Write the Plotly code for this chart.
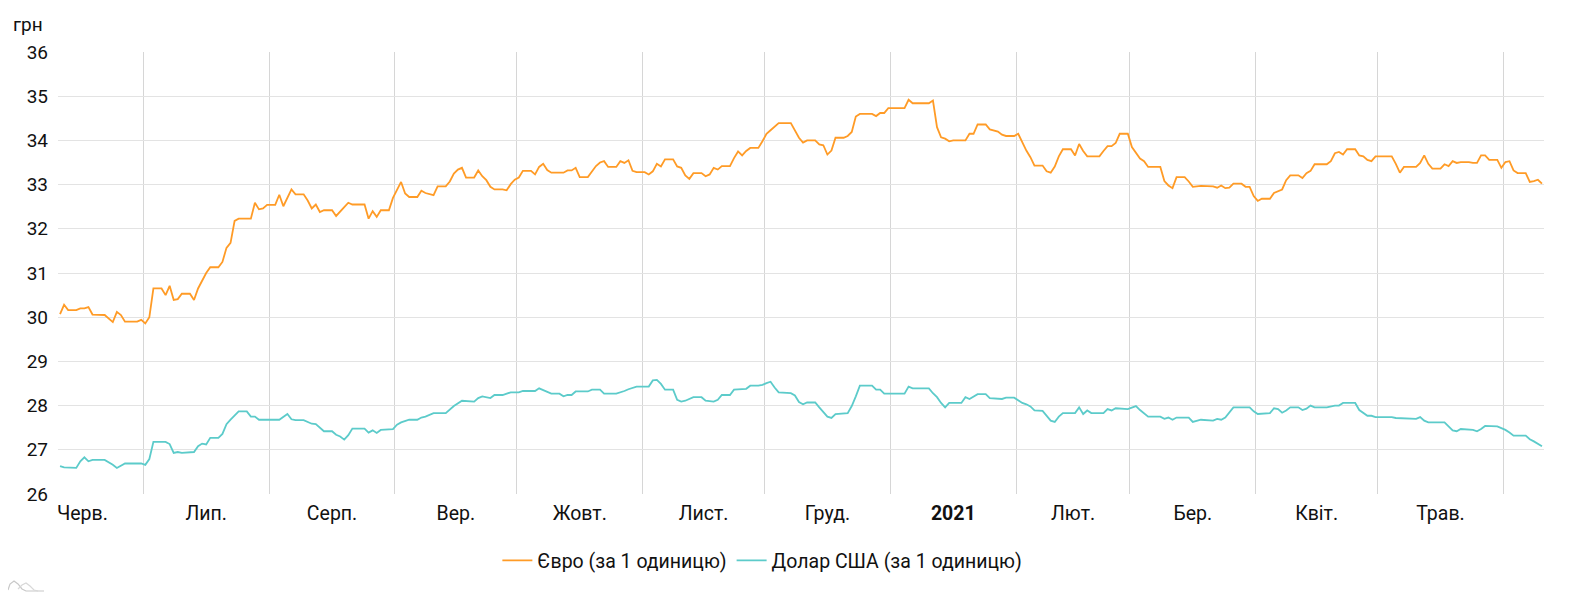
import pandas as pd
import plotly.graph_objects as go

# ---- data (day index from 2020-06-10, value in UAH) ----
START = "2020-06-10"

eur_day = [0, 1, 2, 4, 5, 6, 7, 8, 11, 12, 13, 14, 15, 16, 19, 20, 21, 22, 23, 25,
           26, 27, 28, 29, 30, 32, 33, 34, 35, 36, 37, 39, 40, 41, 42, 43, 44, 47, 48, 49,
           50, 51, 53, 54, 55, 56, 57, 58, 60, 61, 62, 63, 64, 65, 67, 68, 69, 70, 71, 72,
           75, 76, 77, 78, 79, 81, 82, 83, 84, 85, 86, 88, 89, 90, 92, 93, 95, 96, 97, 98,
           99, 100, 102, 103, 104, 105, 106, 107, 109, 110, 111, 112, 113, 114, 116, 117, 118, 119, 120, 121,
           124, 125, 126, 127, 128, 130, 131, 132, 133, 134, 135, 137, 138, 139, 140, 141, 142, 144, 145, 146,
           147, 148, 149, 151, 152, 153, 154, 155, 156, 158, 159, 160, 161, 162, 163, 165, 166, 167, 168, 169,
           170, 172, 173, 174, 175, 177, 180, 181, 182, 183, 184, 186, 187, 188, 189, 190, 191, 193, 194, 195,
           196, 197, 200, 201, 202, 203, 204, 208, 209, 210, 214, 215, 216, 217, 218, 219, 220, 223, 224, 225,
           226, 228, 229, 231, 232, 233, 235, 236, 237, 238, 239, 240, 242, 243, 244, 245, 246, 247, 249, 250,
           251, 252, 253, 256, 257, 258, 259, 260, 261, 263, 264, 265, 266, 267, 268, 271, 272, 273, 274, 275,
           277, 278, 279, 281, 284, 285, 286, 287, 288, 289, 291, 292, 293, 294, 295, 296, 298, 299, 300, 301,
           302, 303, 305, 306, 307, 308, 309, 312, 313, 314, 315, 316, 317, 319, 320, 321, 322, 323, 324, 328,
           329, 330, 331, 334, 335, 336, 337, 338, 340, 341, 342, 343, 344, 345, 347, 348, 349, 350, 351, 352,
           354, 355, 356, 357, 358, 359, 361, 362, 363, 364, 365]
eur_val = [30.07, 30.28, 30.16, 30.16, 30.20, 30.20, 30.23, 30.06, 30.05, 29.97, 29.89, 30.12, 30.05, 29.90, 29.90, 29.94, 29.86, 30.00, 30.65, 30.65,
           30.50, 30.71, 30.39, 30.41, 30.53, 30.53, 30.39, 30.65, 30.84, 31.00, 31.13, 31.13, 31.25, 31.57, 31.68, 32.18, 32.23, 32.23, 32.59, 32.44,
           32.46, 32.54, 32.54, 32.77, 32.51, 32.71, 32.89, 32.78, 32.78, 32.64, 32.46, 32.55, 32.38, 32.42, 32.42, 32.29, 32.38, 32.49, 32.59, 32.55,
           32.55, 32.23, 32.40, 32.27, 32.42, 32.42, 32.70, 32.89, 33.06, 32.80, 32.72, 32.72, 32.86, 32.81, 32.76, 32.96, 32.96, 33.07, 33.25, 33.34,
           33.38, 33.16, 33.16, 33.32, 33.19, 33.10, 32.95, 32.89, 32.89, 32.87, 33.01, 33.11, 33.16, 33.31, 33.31, 33.23, 33.40, 33.47, 33.33, 33.27,
           33.27, 33.32, 33.32, 33.38, 33.17, 33.17, 33.30, 33.42, 33.50, 33.53, 33.40, 33.40, 33.53, 33.49, 33.55, 33.31, 33.28, 33.28, 33.23, 33.30,
           33.47, 33.41, 33.57, 33.57, 33.41, 33.38, 33.21, 33.13, 33.26, 33.26, 33.19, 33.23, 33.38, 33.34, 33.42, 33.42, 33.60, 33.75, 33.66, 33.76,
           33.83, 33.83, 33.98, 34.15, 34.23, 34.39, 34.39, 34.24, 34.06, 33.95, 34.00, 34.00, 33.91, 33.89, 33.68, 33.77, 34.06, 34.06, 34.10, 34.19,
           34.54, 34.60, 34.60, 34.55, 34.62, 34.62, 34.73, 34.73, 34.92, 34.84, 34.84, 34.90, 34.30, 34.07, 34.04, 33.98, 34.00, 34.00, 34.15, 34.15,
           34.36, 34.36, 34.25, 34.20, 34.13, 34.10, 34.10, 34.15, 33.94, 33.77, 33.62, 33.43, 33.43, 33.30, 33.27, 33.41, 33.64, 33.80, 33.80, 33.66,
           33.92, 33.76, 33.64, 33.64, 33.76, 33.87, 33.87, 33.94, 34.15, 34.15, 33.85, 33.71, 33.59, 33.53, 33.40, 33.40, 33.08, 32.98, 32.92, 33.17,
           33.17, 33.07, 32.95, 32.97, 32.96, 32.93, 32.98, 32.92, 32.93, 33.02, 33.02, 32.95, 32.95, 32.74, 32.63, 32.68, 32.68, 32.81, 32.85, 32.89,
           33.10, 33.21, 33.21, 33.15, 33.26, 33.31, 33.46, 33.46, 33.53, 33.71, 33.74, 33.68, 33.80, 33.80, 33.66, 33.64, 33.56, 33.53, 33.64, 33.64,
           33.47, 33.27, 33.40, 33.40, 33.49, 33.66, 33.47, 33.36, 33.36, 33.46, 33.42, 33.53, 33.49, 33.51, 33.51, 33.49, 33.49, 33.66, 33.66, 33.56,
           33.56, 33.38, 33.51, 33.53, 33.32, 33.26, 33.26, 33.06, 33.08, 33.11, 33.02]

usd_day = [0, 1, 4, 5, 6, 7, 8, 11, 13, 14, 16, 20, 21, 22, 23, 26, 27, 28, 29, 30,
           33, 34, 35, 36, 37, 39, 40, 41, 42, 44, 46, 47, 48, 49, 54, 56, 57, 58, 60, 62,
           63, 65, 67, 68, 69, 70, 71, 72, 75, 76, 77, 78, 79, 82, 83, 84, 86, 88, 89, 90,
           92, 95, 97, 99, 102, 103, 104, 106, 107, 109, 111, 113, 114, 117, 118, 119, 121, 123, 124, 125,
           126, 127, 130, 131, 133, 134, 137, 139, 140, 142, 145, 146, 147, 148, 149, 151, 152, 153, 154, 156,
           158, 159, 161, 162, 163, 165, 166, 169, 170, 172, 173, 174, 175, 176, 177, 180, 181, 182, 183, 184,
           186, 187, 188, 189, 190, 191, 194, 195, 196, 197, 200, 201, 202, 203, 208, 209, 210, 214, 215, 216,
           217, 218, 219, 222, 223, 224, 226, 228, 229, 232, 233, 235, 237, 238, 239, 240, 242, 243, 244, 245,
           246, 247, 250, 251, 252, 253, 254, 257, 258, 259, 260, 263, 265, 266, 268, 271, 272, 273, 274, 275,
           278, 279, 281, 284, 285, 286, 287, 289, 293, 294, 295, 298, 299, 300, 301, 302, 303, 305, 306, 307,
           308, 309, 312, 314, 315, 316, 319, 320, 321, 322, 323, 324, 328, 329, 334, 335, 336, 337, 341, 342,
           343, 344, 345, 348, 349, 350, 351, 354, 356, 357, 358, 361, 362, 363, 364, 365]
usd_val = [26.63, 26.60, 26.59, 26.74, 26.83, 26.74, 26.77, 26.77, 26.66, 26.59, 26.69, 26.69, 26.66, 26.79, 27.18, 27.18, 27.13, 26.93, 26.95, 26.93,
           26.95, 27.08, 27.14, 27.12, 27.27, 27.27, 27.36, 27.58, 27.68, 27.87, 27.87, 27.75, 27.75, 27.68, 27.68, 27.81, 27.69, 27.67, 27.67, 27.59,
           27.58, 27.42, 27.42, 27.34, 27.30, 27.23, 27.33, 27.48, 27.48, 27.39, 27.44, 27.38, 27.45, 27.47, 27.57, 27.62, 27.68, 27.68, 27.73, 27.75,
           27.83, 27.83, 27.99, 28.11, 28.09, 28.17, 28.21, 28.17, 28.24, 28.24, 28.30, 28.30, 28.33, 28.33, 28.39, 28.35, 28.27, 28.27, 28.21, 28.24,
           28.24, 28.32, 28.32, 28.36, 28.36, 28.27, 28.27, 28.33, 28.37, 28.43, 28.43, 28.57, 28.58, 28.49, 28.36, 28.36, 28.13, 28.09, 28.11, 28.19,
           28.19, 28.11, 28.09, 28.13, 28.24, 28.24, 28.36, 28.38, 28.45, 28.45, 28.47, 28.51, 28.54, 28.41, 28.30, 28.28, 28.23, 28.08, 28.03, 28.07,
           28.07, 27.96, 27.85, 27.75, 27.72, 27.81, 27.83, 27.99, 28.21, 28.45, 28.45, 28.36, 28.36, 28.27, 28.27, 28.43, 28.39, 28.39, 28.28, 28.19,
           28.06, 27.96, 28.06, 28.06, 28.19, 28.15, 28.26, 28.26, 28.17, 28.15, 28.18, 28.18, 28.06, 28.03, 27.98, 27.89, 27.88, 27.77, 27.66, 27.63,
           27.75, 27.83, 27.83, 27.96, 27.81, 27.89, 27.83, 27.83, 27.92, 27.89, 27.94, 27.92, 27.99, 27.90, 27.75, 27.75, 27.70, 27.73, 27.68, 27.73,
           27.73, 27.63, 27.68, 27.66, 27.70, 27.68, 27.73, 27.96, 27.96, 27.87, 27.81, 27.83, 27.94, 27.92, 27.84, 27.89, 27.96, 27.96, 27.90, 27.93,
           28.00, 27.96, 27.96, 28.00, 28.00, 28.06, 28.06, 27.90, 27.84, 27.77, 27.77, 27.74, 27.74, 27.72, 27.70, 27.74, 27.66, 27.62, 27.62, 27.54,
           27.44, 27.42, 27.47, 27.45, 27.42, 27.47, 27.54, 27.53, 27.45, 27.39, 27.32, 27.32, 27.24, 27.19, 27.14, 27.08]

month_starts = ["2020-06-01", "2020-07-01", "2020-08-01", "2020-09-01", "2020-10-01", "2020-11-01",
                "2020-12-01", "2021-01-01", "2021-02-01", "2021-03-01", "2021-04-01", "2021-05-01",
                "2021-06-01"]
month_labels = ["Черв.", "Лип.", "Серп.", "Вер.", "Жовт.", "Лист.", "Груд.", "<b>2021</b>",
                "Лют.", "Бер.", "Квіт.", "Трав."]

eur_name = "Євро (за 1 одиницю)"
usd_name = "Долар США (за 1 одиницю)"

# ---- build ----
start = pd.Timestamp(START)
half_day = pd.Timedelta(hours=12)
eur_x = [start + pd.Timedelta(days=d) + half_day for d in eur_day]
usd_x = [start + pd.Timedelta(days=d) + half_day for d in usd_day]

ms = [pd.Timestamp(m) for m in month_starts]
mid = [ms[i] + (ms[i + 1] - ms[i]) / 2 for i in range(len(month_labels))]

EUR_C = "#ff9b26"
USD_C = "#5ccbca"
TXT = "#111111"
FONT = "Roboto, Arial, sans-serif"

# page body has an 8px margin; figure is sized so it fits the window
W, H = 1560, 596
ML, MR, MT, MB = 50, 24, 44, 110

fig = go.Figure()
fig.add_trace(go.Scatter(x=eur_x, y=eur_val, mode="lines", name=eur_name,
                         line=dict(color=EUR_C, width=1.8)))
fig.add_trace(go.Scatter(x=usd_x, y=usd_val, mode="lines", name=usd_name,
                         line=dict(color=USD_C, width=1.8)))

fig.update_layout(
    width=W, height=H,
    margin=dict(l=ML, r=MR, t=MT, b=MB),
    paper_bgcolor="white", plot_bgcolor="white",
    font=dict(family=FONT, size=16, color=TXT),
    showlegend=True,
    legend=dict(orientation="h", x=0.474, xanchor="center", y=-0.151, yanchor="middle",
                font=dict(size=19.5, color=TXT), itemwidth=30, tracegroupgap=0),
    xaxis=dict(
        type="date",
        range=["2020-06-10", "2021-06-11"],
        tickmode="array", tickvals=mid, ticktext=month_labels,
        showgrid=False, ticks="", showline=False, zeroline=False,
        ticklabelstandoff=5,
        tickfont=dict(size=19.5, color=TXT),
        minor=dict(tickmode="array", tickvals=ms, showgrid=True,
                   gridcolor="#d6d6d6", gridwidth=1, ticks=""),
    ),
    yaxis=dict(
        range=[26, 36], dtick=1, tick0=26,
        showgrid=True, gridcolor="#e3e3e3", gridwidth=1,
        zeroline=False, showline=False, ticks="",
        ticklabelstandoff=9,
        tickfont=dict(size=19, color=TXT),
    ),
    annotations=[dict(text="грн", xref="paper", yref="paper",
                      x=-0.0318, y=1.062, xanchor="left", yanchor="middle",
                      showarrow=False, font=dict(size=19, color=TXT))],
)

# small watermark logo at the bottom-left corner (page pixel coordinates)
PW = W - ML - MR
PH = H - MT - MB

def px(xp, yp):
    fx, fy = xp - 8, yp - 8
    return (fx - ML) / PW, (H - MB - fy) / PH

def path(points):
    s = ""
    for i, (a, b) in enumerate(points):
        X, Y = px(a, b)
        s += ("M" if i == 0 else " L") + f" {X:.5f},{Y:.5f}"
    return s

fig.add_shape(type="path", xref="paper", yref="paper",
              path=path([(8, 590), (10, 584), (14, 581), (18, 584), (22, 589), (26, 591), (44, 591)]),
              line=dict(color="#c8c8c8", width=1.2))
fig.add_shape(type="path", xref="paper", yref="paper",
              path=path([(18, 589), (22, 585), (26, 583), (30, 586), (34, 590), (38, 591)]),
              line=dict(color="#d8d8d8", width=1.2))

fig.write_html("out.html")
